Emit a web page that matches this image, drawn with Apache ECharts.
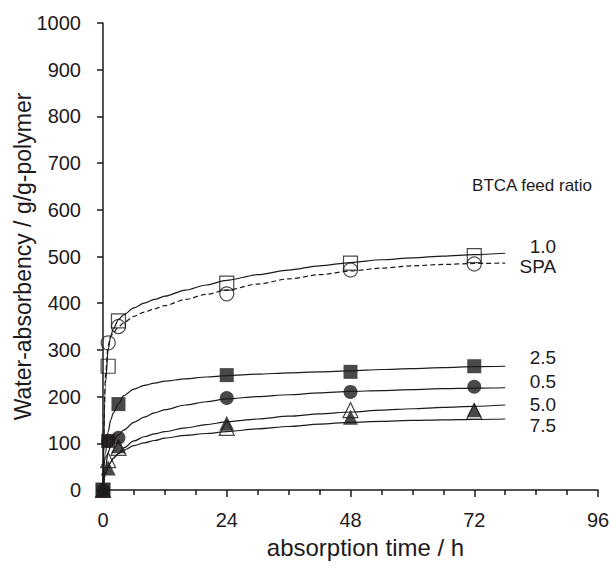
<!DOCTYPE html>
<html>
<head>
<meta charset="utf-8">
<script src="https://cdn.jsdelivr.net/npm/echarts@6/dist/echarts.min.js"></script>
<style>
  html, body { margin: 0; padding: 0; background: #fff; }
  #chart { width: 610px; height: 569px; }
</style>
</head>
<body>
<div id="chart"></div>
<script>
// measured points (time h, water absorbency g/g)
var pts10  = [[0, 0], [1, 265], [3, 362], [24, 443], [48, 486], [72, 502]];
var ptsSPA = [[1, 315], [3, 350], [24, 420], [48, 471], [72, 484]];
var pts25  = [[0, 0], [1, 105], [3, 184], [24, 246], [48, 253], [72, 265]];
var pts05  = [[0, 0], [1, 105], [3, 112], [24, 197], [48, 210], [72, 221]];
var pts50  = [[0, 0], [1, 47], [3, 95], [24, 143], [48, 156], [72, 172]];
var pts75  = [[0, 0], [1, 64], [3, 90], [24, 133], [48, 171], [72, 168]];

// fitted curves at these times
var fitT   = [0, 0.5, 1, 1.5, 2, 3, 4, 6, 8, 10, 12, 16, 20, 24, 30, 36, 42, 48, 54, 60, 66, 72, 78];
var fit10  = [0, 230, 300, 330, 345, 365, 375, 390, 400, 408, 415, 428, 439, 449, 461, 471, 480, 487, 493, 497, 501, 504, 507];
var fitSPA = [0, 250, 310, 328, 337, 349, 358, 372, 381, 388, 395, 408, 419, 428, 441, 452, 461, 469, 475, 480, 483, 485, 486];
var fit25  = [0, 80, 125, 150, 165, 185, 202, 216, 224, 229, 233, 238, 242, 245, 248, 251, 253, 255, 258, 260, 262, 264, 265];
var fit05  = [0, 50, 80, 95, 105, 118, 128, 145, 156, 165, 172, 182, 189, 195, 200, 204, 208, 211, 213, 215, 217, 218, 219];
var fit50  = [0, 35, 50, 60, 68, 78, 90, 105, 114, 120, 125, 133, 140, 146, 152, 158, 163, 167, 171, 174, 177, 179, 182];
var fit75  = [0, 35, 50, 60, 68, 78, 85, 95, 101, 106, 111, 117, 121, 125, 131, 136, 141, 145, 147, 149, 150, 151, 152];

var xTicks = [0, 24, 48, 72, 96];
var yTicks = [0, 100, 200, 300, 400, 500, 600, 700, 800, 900, 1000];

var ink = '#1e1a1b';
var font = 'Liberation Sans, Arial, sans-serif';

function zip(ys) {
  return fitT.map(function(t, i) { return [t, ys[i]]; });
}

function curve(name, ys, dashed, dy) {
  return {
    type: 'line',
    name: name,
    data: zip(ys),
    smooth: 0.3,
    smoothMonotone: 'x',
    showSymbol: false,
    silent: true,
    z: 2,
    lineStyle: { color: ink, width: 1.2, type: dashed ? [5, 3] : 'solid' },
    endLabel: {
      show: true,
      formatter: name,
      color: ink,
      fontSize: 19,
      fontFamily: font,
      align: 'right',
      verticalAlign: 'middle',
      distance: 0,
      offset: [51, dy]
    }
  };
}

function marks(data, symbol, filled) {
  return {
    type: 'scatter',
    data: data,
    symbol: symbol,
    symbolSize: symbol === 'triangle' ? 15 : 14,
    z: filled ? 4 : 3,
    itemStyle: {
      color: filled ? ink : 'rgba(0,0,0,0)',
      borderColor: ink,
      borderWidth: filled ? 0 : 1.2
    }
  };
}

var chart = echarts.init(document.getElementById('chart'), null, { renderer: 'svg' });
chart.setOption({
  animation: false,
  title: {
    text: 'BTCA feed ratio',
    right: 12,
    top: 172,
    textStyle: { color: ink, fontSize: 17, fontWeight: 'normal', fontFamily: font }
  },
  grid: { left: 103, right: 12, top: 23, bottom: 79, containLabel: false, outerBoundsMode: 'none' },
  xAxis: {
    type: 'value',
    min: xTicks[0],
    max: xTicks[xTicks.length - 1],
    interval: 24,
    name: 'absorption time / h',
    nameLocation: 'middle',
    nameGap: 45,
    nameMoveOverlap: false,
    nameTextStyle: { color: ink, fontSize: 24, fontFamily: font, padding: [0, 0, 0, 30] },
    axisLine: { lineStyle: { color: ink, width: 1.5 } },
    axisTick: { show: true, inside: false, length: 7, lineStyle: { color: ink, width: 1.5 } },
    minorTick: { show: true, splitNumber: 4, length: 5, lineStyle: { color: ink, width: 1.5 } },
    axisLabel: { color: ink, fontSize: 20, fontFamily: font, margin: 20 },
    splitLine: { show: false }
  },
  yAxis: {
    type: 'value',
    min: yTicks[0],
    max: yTicks[yTicks.length - 1],
    interval: 100,
    name: 'Water-absorbency / g/g-polymer',
    nameLocation: 'middle',
    nameGap: 69,
    nameMoveOverlap: false,
    nameTextStyle: { color: ink, fontSize: 23, fontFamily: font },
    axisLine: { show: true, lineStyle: { color: ink, width: 1.5 } },
    axisTick: { show: true, inside: false, length: 6, lineStyle: { color: ink, width: 1.5 } },
    axisLabel: {
      color: ink, fontSize: 20, fontFamily: font, margin: 22,
      formatter: function(v) { return String(v); }
    },
    splitLine: { show: false }
  },
  series: [
    curve('1.0', fit10, false, -7),
    curve('SPA', fitSPA, true, 3),
    curve('2.5', fit25, false, -9),
    curve('0.5', fit05, false, -6),
    curve('5.0', fit50, false, -1),
    curve('7.5', fit75, false, 6),
    marks(ptsSPA, 'circle', false),
    marks(pts10, 'rect', false),
    marks(pts75, 'triangle', false),
    marks(pts50, 'triangle', true),
    marks(pts05, 'circle', true),
    marks(pts25, 'rect', true)
  ]
});
window.addEventListener('resize', function() { chart.resize(); });
</script>
</body>
</html>
